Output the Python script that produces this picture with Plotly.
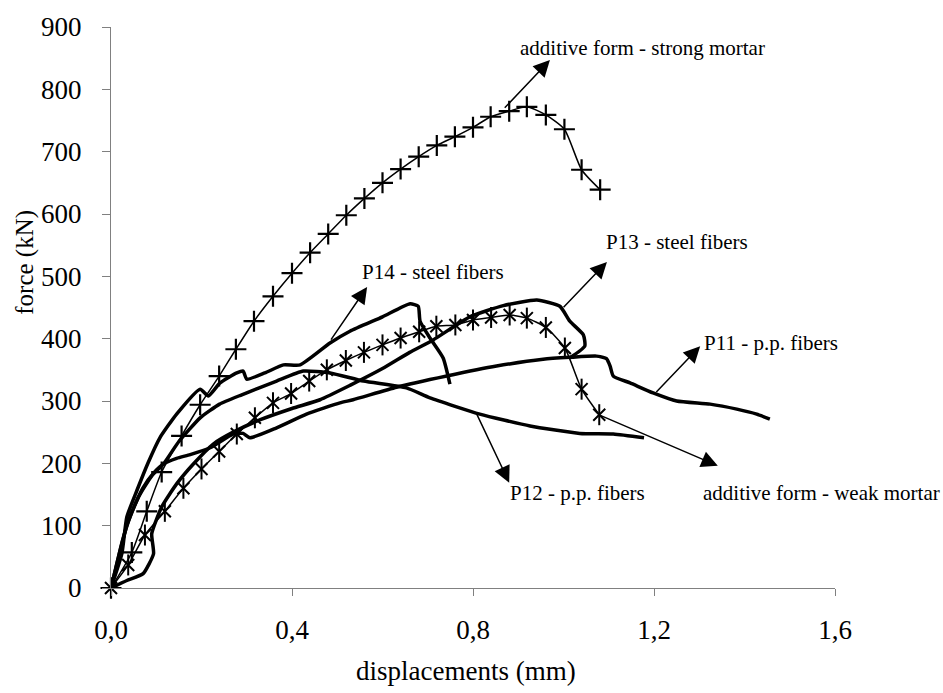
import plotly.graph_objects as go

# ---------------- data ----------------
strong_x = [0, 0.046, 0.079, 0.112, 0.156, 0.197, 0.239, 0.276, 0.316, 0.358, 0.40, 0.44, 0.48,
            0.52, 0.56, 0.60, 0.64, 0.68, 0.72, 0.760, 0.800, 0.839, 0.880, 0.919, 0.961, 1.002,
            1.040, 1.081]
strong_y = [0, 57, 123, 186, 244, 294, 340, 383, 428, 468, 505, 538, 568, 598, 625, 650, 672,
            692, 710, 724, 739, 756, 765, 772, 759, 736, 671, 639]

weak_x = [0, 0.038, 0.075, 0.119, 0.160, 0.200, 0.239, 0.278, 0.318, 0.358, 0.398, 0.438, 0.477,
          0.519, 0.559, 0.600, 0.640, 0.681, 0.719, 0.761, 0.800, 0.840, 0.881, 0.919, 0.961,
          1.003, 1.040, 1.079]
weak_y = [0, 37, 85, 123, 160, 191, 219, 247, 273, 297, 312, 332, 350, 365, 378, 390, 401, 411,
          420, 422, 430, 434, 438, 433, 418, 385, 319, 278]

p14_x = [0, 0.024, 0.035, 0.057, 0.082, 0.108, 0.145, 0.197, 0.215, 0.241, 0.278, 0.292, 0.300,
         0.340, 0.381, 0.418, 0.484, 0.528, 0.600, 0.661, 0.679, 0.683, 0.705, 0.734, 0.749]
p14_y = [0, 55, 114, 156, 201, 241, 279, 319, 308, 329, 345, 348, 335, 345, 358, 358, 393, 412,
         435, 456, 452, 428, 401, 369, 327]

p13_x = [0, 0.035, 0.071, 0.094, 0.090, 0.112, 0.145, 0.182, 0.226, 0.270, 0.330, 0.400, 0.462,
         0.528, 0.600, 0.660, 0.712, 0.793, 0.867, 0.941, 0.992, 1.014, 1.044, 1.047, 1.014]
p13_y = [0, 12, 23, 55, 87, 130, 167, 199, 231, 250, 270, 288, 302, 325, 352, 378, 398, 435,
         453, 462, 452, 428, 406, 388, 369]

p12_x = [0, 0.015, 0.035, 0.060, 0.090, 0.116, 0.150, 0.197, 0.240, 0.289, 0.366, 0.425, 0.484,
         0.558, 0.653, 0.705, 0.815, 0.926, 1.036, 1.110, 1.178]
p12_y = [0, 45, 100, 145, 180, 199, 235, 273, 295, 310, 332, 348, 345, 332, 321, 305, 279, 260,
         248, 247, 241]

p11_x = [0, 0.010, 0.025, 0.045, 0.070, 0.095, 0.116, 0.145, 0.175, 0.219, 0.270, 0.292, 0.307,
         0.366, 0.432, 0.506, 0.535, 0.631, 0.742, 0.852, 0.955, 1.014, 1.073, 1.095, 1.103,
         1.110, 1.147, 1.198, 1.250, 1.324, 1.383, 1.427, 1.456]
p11_y = [0, 30, 75, 120, 160, 185, 199, 208, 214, 225, 247, 248, 241, 257, 279, 297, 302, 322,
         340, 356, 367, 370, 372, 368, 356, 340, 329, 313, 300, 295, 287, 279, 271]

x_tickvals = [0, 0.4, 0.8, 1.2, 1.6]
x_ticktext = ["0,0", "0,4", "0,8", "1,2", "1,6"]
y_tickvals = [0, 100, 200, 300, 400, 500, 600, 700, 800, 900]

# callout labels: (text, text_x, text_y, tail_x, tail_y, tip_x, tip_y)
labels = [
    ("additive form - strong mortar", 1.174, 866, 0.867, 768, 0.970, 847),
    ("P14 - steel fibers", 0.712, 507, 0.484, 396, 0.566, 483),
    ("P13 - steel fibers", 1.251, 555, 0.997, 448, 1.096, 523),
    ("P11 - p.p. fibers", 1.459, 393, 1.202, 312, 1.302, 388),
    ("P12 - p.p. fibers", 1.032, 152, 0.807, 281, 0.880, 169),
    ("additive form - weak mortar", 1.571, 152, 1.078, 278, 1.341, 196),
]

FONT = "Liberation Serif"

fig = go.Figure()

thick = dict(color="black", width=3.5, shape="spline", smoothing=0.5)
for xs, ys, nm in [(p14_x, p14_y, "P14"), (p13_x, p13_y, "P13"),
                   (p12_x, p12_y, "P12"), (p11_x, p11_y, "P11")]:
    fig.add_trace(go.Scatter(x=xs, y=ys, mode="lines", line=thick, name=nm,
                             showlegend=False, hoverinfo="skip"))

thin = dict(color="black", width=1.5, shape="spline", smoothing=0.6)
fig.add_trace(go.Scatter(x=strong_x, y=strong_y, mode="lines+markers", line=thin,
                         marker=dict(symbol="cross-thin-open", size=15, color="black",
                                     line=dict(color="black", width=2.2)),
                         cliponaxis=False, showlegend=False))
fig.add_trace(go.Scatter(x=weak_x, y=weak_y, mode="lines+markers", line=thin,
                         marker=dict(symbol="x-thin-open", size=12, color="black",
                                     line=dict(color="black", width=2)),
                         cliponaxis=False, showlegend=False))
fig.add_trace(go.Scatter(x=weak_x, y=weak_y, mode="markers",
                         marker=dict(symbol="line-ns-open", size=15, color="black",
                                     line=dict(color="black", width=2)),
                         cliponaxis=False, showlegend=False))

annotations = []
for text, tx, ty, ax, ay, hx, hy in labels:
    annotations.append(dict(x=hx, y=hy, ax=ax, ay=ay, xref="x", yref="y", axref="x", ayref="y",
                            showarrow=True, arrowhead=2, arrowsize=2.2, arrowwidth=1.5,
                            arrowcolor="black", text=""))
    annotations.append(dict(x=tx, y=ty, xref="x", yref="y", text=text, showarrow=False,
                            xanchor="center", yanchor="middle",
                            font=dict(family=FONT, size=21, color="black")))

annotations.append(dict(x=-0.12, y=0.58, xref="paper", yref="paper", text="force (kN)",
                        showarrow=False, textangle=-90, xanchor="center", yanchor="middle",
                        font=dict(family=FONT, size=25, color="black")))
annotations.append(dict(x=0.49, y=-0.148, xref="paper", yref="paper", text="displacements (mm)",
                        showarrow=False, xanchor="center", yanchor="middle",
                        font=dict(family=FONT, size=27, color="black")))

fig.update_layout(
    width=943, height=693,
    margin=dict(l=111, r=108, t=22, b=105),
    paper_bgcolor="white", plot_bgcolor="white",
    font=dict(family=FONT, size=27, color="black"),
    annotations=annotations,
    showlegend=False,
)
fig.update_xaxes(range=[0, 1.6], tickvals=x_tickvals, ticktext=x_ticktext,
                 showline=True, linecolor="#808080", linewidth=1.3, showgrid=False,
                 zeroline=False, ticks="outside", ticklen=7, tickcolor="#808080",
                 tickwidth=1.3, ticklabelstandoff=10,
                 tickfont=dict(family=FONT, size=27, color="black"))
fig.update_yaxes(range=[0, 900], tickvals=y_tickvals,
                 showline=True, linecolor="#808080", linewidth=1.3, showgrid=False,
                 zeroline=False, ticks="outside", ticklen=8, tickcolor="#808080",
                 tickwidth=1.3, ticklabelstandoff=15,
                 tickfont=dict(family=FONT, size=27, color="black"))

fig.write_html("out.html")
